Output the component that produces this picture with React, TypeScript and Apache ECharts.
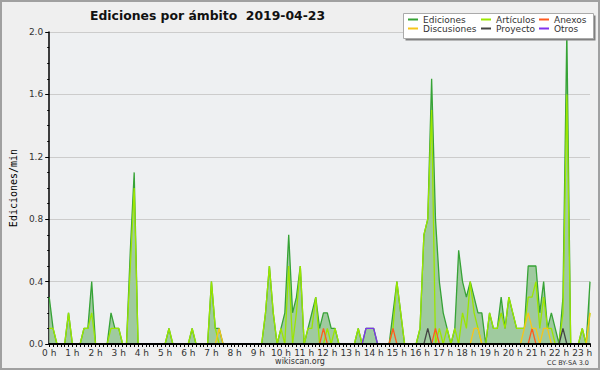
import React, { useEffect, useRef } from "react";
import * as echarts from "echarts";

// 10-minute bins (0:00 .. 23:20), one row per hour
const ediciones = [
  0.3, 0.1, 0, 0, 0, 0.2,
  0, 0, 0, 0.1, 0.1, 0.4,
  0, 0, 0, 0, 0.2, 0.1,
  0.1, 0, 0, 0.6, 1.1, 0,
  0, 0, 0, 0, 0, 0,
  0, 0.1, 0, 0, 0, 0,
  0, 0.1, 0, 0, 0, 0,
  0.4, 0.1, 0.1, 0, 0, 0,
  0, 0, 0, 0, 0, 0,
  0, 0, 0.2, 0.5, 0.2, 0,
  0.1, 0.2, 0.7, 0.2, 0.3, 0.5,
  0, 0.1, 0.2, 0.3, 0.1, 0.2,
  0.2, 0.1, 0.1, 0, 0, 0,
  0, 0, 0.1, 0, 0.1, 0.1,
  0.1, 0, 0, 0, 0, 0.2,
  0.4, 0.2, 0, 0, 0, 0,
  0.1, 0.7, 0.8, 1.7, 0.8, 0.4,
  0.2, 0.1, 0, 0.1, 0.6, 0.4,
  0.3, 0.4, 0.3, 0.2, 0.2, 0,
  0.2, 0.1, 0.1, 0.3, 0.1, 0.3,
  0.2, 0.1, 0.1, 0.1, 0.5, 0.5,
  0.5, 0.2, 0.4, 0.1, 0.2, 0.1,
  0, 0.3, 2.0, 0, 0, 0,
  0.1, 0, 0.4,
];

const articulos = [
  0.1, 0.1, 0, 0, 0, 0.2,
  0, 0, 0, 0.1, 0.1, 0.2,
  0, 0, 0, 0, 0.1, 0.1,
  0.1, 0, 0, 0.5, 1.0, 0,
  0, 0, 0, 0, 0, 0,
  0, 0.1, 0, 0, 0, 0,
  0, 0.1, 0, 0, 0, 0,
  0.4, 0.1, 0, 0, 0, 0,
  0, 0, 0, 0, 0, 0,
  0, 0, 0.2, 0.5, 0.2, 0,
  0.1, 0, 0.5, 0, 0.2, 0.5,
  0, 0.1, 0.1, 0.3, 0, 0,
  0.1, 0, 0.1, 0, 0, 0,
  0, 0, 0.1, 0, 0, 0,
  0, 0, 0, 0, 0, 0.1,
  0.4, 0.2, 0, 0, 0, 0,
  0.1, 0.7, 0.8, 1.5, 0, 0.1,
  0, 0.1, 0, 0.1, 0, 0.2,
  0.1, 0.4, 0.2, 0.1, 0, 0,
  0.2, 0.1, 0.1, 0.2, 0.1, 0.3,
  0.2, 0.1, 0.1, 0.1, 0.3, 0.3,
  0.4, 0.1, 0.3, 0.1, 0.1, 0,
  0, 0.2, 1.6, 0, 0, 0,
  0.1, 0, 0.2,
];

const anexos = [
  0, 0, 0, 0, 0, 0,
  0, 0, 0, 0, 0, 0,
  0, 0, 0, 0, 0, 0,
  0, 0, 0, 0, 0, 0,
  0, 0, 0, 0, 0, 0,
  0, 0, 0, 0, 0, 0,
  0, 0, 0, 0, 0, 0,
  0, 0, 0, 0, 0, 0,
  0, 0, 0, 0, 0, 0,
  0, 0, 0, 0, 0, 0,
  0, 0, 0, 0, 0, 0,
  0, 0, 0, 0, 0, 0.1,
  0, 0, 0, 0, 0, 0,
  0, 0, 0, 0, 0, 0,
  0, 0, 0, 0, 0, 0.1,
  0, 0, 0, 0, 0, 0,
  0, 0, 0, 0, 0.1, 0,
  0, 0, 0, 0, 0, 0,
  0, 0, 0, 0, 0, 0,
  0, 0, 0, 0, 0, 0,
  0, 0, 0, 0, 0, 0.1,
  0, 0, 0, 0, 0, 0,
  0, 0, 0, 0, 0, 0,
  0, 0, 0,
];

const discusiones = [
  0, 0, 0, 0, 0, 0,
  0, 0, 0, 0, 0, 0,
  0, 0, 0, 0, 0, 0,
  0, 0, 0, 0, 0, 0,
  0, 0, 0, 0, 0, 0,
  0, 0, 0, 0, 0, 0,
  0, 0, 0, 0, 0, 0,
  0, 0, 0.1, 0, 0, 0,
  0, 0, 0, 0, 0, 0,
  0, 0, 0, 0, 0, 0,
  0, 0, 0, 0, 0, 0,
  0, 0, 0, 0, 0, 0,
  0, 0, 0, 0, 0, 0,
  0, 0, 0, 0, 0, 0,
  0, 0, 0, 0, 0, 0,
  0, 0, 0, 0, 0, 0,
  0, 0, 0, 0, 0, 0,
  0, 0, 0, 0, 0, 0,
  0, 0, 0.1, 0.1, 0, 0,
  0, 0, 0, 0, 0, 0,
  0, 0, 0, 0.1, 0.2, 0.1,
  0.1, 0, 0.1, 0.1, 0, 0,
  0, 0, 0, 0, 0, 0,
  0, 0, 0.2,
];

const proyecto = [
  0, 0, 0, 0, 0, 0,
  0, 0, 0, 0, 0, 0,
  0, 0, 0, 0, 0, 0,
  0, 0, 0, 0, 0, 0,
  0, 0, 0, 0, 0, 0,
  0, 0, 0, 0, 0, 0,
  0, 0, 0, 0, 0, 0,
  0, 0, 0, 0, 0, 0,
  0, 0, 0, 0, 0, 0,
  0, 0, 0, 0, 0, 0,
  0, 0, 0, 0, 0, 0,
  0, 0, 0, 0, 0, 0,
  0, 0, 0, 0, 0, 0,
  0, 0, 0, 0, 0, 0,
  0, 0, 0, 0, 0, 0,
  0, 0, 0, 0, 0, 0,
  0, 0, 0.1, 0, 0, 0,
  0, 0, 0, 0, 0, 0,
  0, 0, 0, 0, 0, 0,
  0, 0, 0, 0, 0, 0,
  0, 0, 0, 0, 0, 0,
  0, 0, 0, 0, 0, 0,
  0, 0.1, 0, 0, 0, 0,
  0, 0, 0,
];

const otros = [
  0, 0, 0, 0, 0, 0,
  0, 0, 0, 0, 0, 0,
  0, 0, 0, 0, 0, 0,
  0, 0, 0, 0, 0, 0,
  0, 0, 0, 0, 0, 0,
  0, 0, 0, 0, 0, 0,
  0, 0, 0, 0, 0, 0,
  0, 0, 0, 0, 0, 0,
  0, 0, 0, 0, 0, 0,
  0, 0, 0, 0, 0, 0,
  0, 0, 0, 0, 0, 0,
  0, 0, 0, 0, 0, 0,
  0, 0, 0, 0, 0, 0,
  0, 0, 0, 0, 0.1, 0.1,
  0.1, 0, 0, 0, 0, 0,
  0, 0, 0, 0, 0, 0,
  0, 0, 0, 0, 0, 0,
  0, 0, 0, 0, 0, 0,
  0, 0, 0, 0, 0, 0,
  0, 0, 0, 0, 0, 0,
  0, 0, 0, 0, 0, 0,
  0, 0, 0, 0, 0, 0,
  0, 0, 0, 0, 0, 0,
  0, 0, 0,
];

const hourLabels = Array.from({ length: 24 }, (_, h) => `${h} h`);
const times = ediciones.map((_, i) => `${Math.floor(i / 6)}:${String((i % 6) * 10).padStart(2, "0")}`);

const titleText = "Ediciones por ámbito  2019-04-23";
const yName = "Ediciones/min";

const FONT = "DejaVu Sans";

const colors = {
  ediciones: "#36a336",
  edicionesFill: "#9fca9f",
  articulos: "#9be600",
  anexos: "#ff5a1f",
  discusiones: "#f7c51a",
  proyecto: "#444444",
  otros: "#8033ee",
};

export default function App() {
  const ref = useRef<HTMLDivElement>(null);
  useEffect(() => {
    if (!ref.current) return;
    const chart = echarts.init(ref.current, null, { renderer: "svg" });
    const lineSeries = (name: string, data: number[], color: string, extra: any = {}) => ({
      name,
      type: "line",
      data,
      symbol: "none",
      smooth: false,
      color,
      itemStyle: { color },
      lineStyle: { color, width: 1.3 },
      ...extra,
    });
    const legendCommon = {
      orient: "vertical",
      top: 15,
      itemWidth: 10,
      itemHeight: 2,
      itemGap: 0,
      icon: "rect",
      z: 20,
      padding: 0,
      textStyle: { fontFamily: FONT, fontSize: 9, color: "#333", lineHeight: 9, padding: [0, 0, 0, 0] },
    };
    chart.setOption({
      animation: false,
      backgroundColor: "#efefef",
      title: {
        text: titleText,
        left: 85,
        top: 4,
        textStyle: { fontFamily: FONT, fontSize: 12.4, fontWeight: "bold", color: "#111" },
      },
      grid: {
        left: 46,
        right: 10,
        top: 32,
        bottom: 26,
        show: true,
        backgroundColor: "#eef0f2",
        borderWidth: 0,
      },
      legend: [
        { ...legendCommon, left: 408, data: ["Ediciones", "Discusiones"] },
        { ...legendCommon, left: 481, data: ["Artículos", "Proyecto"] },
        { ...legendCommon, left: 539, data: ["Anexos", "Otros"] },
      ],
      xAxis: {
        type: "category",
        data: times,
        boundaryGap: false,
        z: 5,
        axisLine: { lineStyle: { color: "#000", width: 2 } },
        axisTick: { show: true, interval: 0, length: 3, lineStyle: { color: "#000", width: 1 } },
        axisLabel: {
          interval: (i: number) => i % 6 === 0,
          formatter: (_v: string, i: number) => hourLabels[Math.floor(i / 6)],
          fontFamily: FONT,
          fontSize: 9,
          color: "#333",
          margin: 4,
        },
        splitLine: { show: false },
      },
      yAxis: {
        type: "value",
        min: 0,
        max: 2,
        interval: 0.4,
        name: yName,
        nameLocation: "middle",
        nameGap: 30,
        nameRotate: 90,
        nameTextStyle: { fontFamily: "DejaVu Sans Mono", fontSize: 10, color: "#000" },
        axisLine: { show: true, lineStyle: { color: "#000", width: 1.5 } },
        axisTick: { show: true, length: 4, lineStyle: { color: "#000" } },
        minorTick: { show: true, splitNumber: 4, length: 2, lineStyle: { color: "#000" } },
        splitLine: { show: true, lineStyle: { color: "#cccccc", width: 1 } },
        axisLabel: {
          formatter: (v: number) => v.toFixed(1),
          fontFamily: FONT,
          fontSize: 9,
          color: "#333",
          margin: 6,
        },
      },
      series: [
        lineSeries("Ediciones", ediciones, colors.ediciones, {
          areaStyle: { color: colors.edicionesFill, opacity: 1 },
          lineStyle: { color: colors.ediciones, width: 1.3 },
        }),
        lineSeries("Artículos", articulos, colors.articulos),
        lineSeries("Anexos", anexos, colors.anexos),
        lineSeries("Discusiones", discusiones, colors.discusiones),
        lineSeries("Proyecto", proyecto, colors.proyecto),
        lineSeries("Otros", otros, colors.otros),
      ],
      graphic: [
        {
          type: "rect",
          z: 15,
          shape: { x: 405.5, y: 15.5, width: 190, height: 25 },
          style: { fill: "#808080" },
        },
        {
          type: "rect",
          z: 16,
          shape: { x: 403.5, y: 13.5, width: 190, height: 25 },
          style: { fill: "#ffffff", stroke: "#aaaaaa", lineWidth: 1 },
        },
        {
          type: "text",
          z: 16,
          x: 300,
          y: 361,
          style: { text: "wikiscan.org", fontFamily: FONT, fontSize: 8, fill: "#333", align: "center", verticalAlign: "middle" },
        },
        {
          type: "text",
          z: 16,
          x: 589,
          y: 363,
          style: { text: "CC BY-SA 3.0", fontFamily: FONT, fontSize: 6.5, fill: "#333", align: "right", verticalAlign: "middle" },
        },
        {
          type: "rect",
          z: 30,
          shape: { x: 1, y: 1, width: 598, height: 368 },
          style: { fill: "none", stroke: "#a0a0a0", lineWidth: 2 },
        },
      ],
    });
    return () => chart.dispose();
  }, []);
  return (
    <div
      ref={ref}
      style={{ position: "fixed", left: 0, top: 0, width: 600, height: 370 }}
    />
  );
}
